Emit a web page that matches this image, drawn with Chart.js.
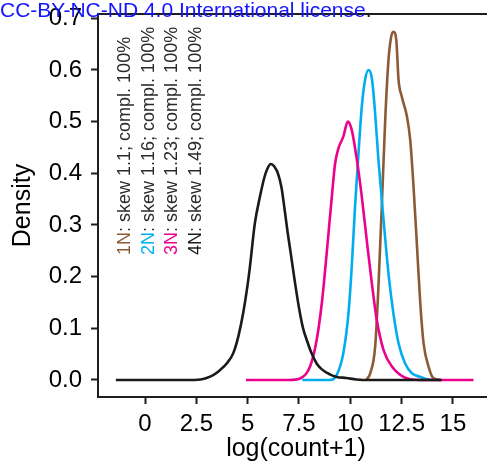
<!DOCTYPE html>
<html>
<head>
<meta charset="utf-8">
<script src="https://cdn.jsdelivr.net/npm/chart.js@4"></script>
<style>
  html, body { margin: 0; padding: 0; background: #ffffff; overflow: hidden; }
  #wrap { position: relative; width: 494px; height: 468px; }
</style>
</head>
<body>
<div id="wrap"><canvas id="chart" width="494" height="468"></canvas></div>
<script>
// Kernel density curves of log(count+1) for four samples
const xs4N = [-1.42, 0, 1, 2, 2.7, 3.0, 3.3, 3.65, 4.0, 4.3, 4.55, 4.78, 5.0, 5.11, 5.35, 5.6, 5.8, 5.95, 6.13, 6.3, 6.49, 6.65, 6.8, 6.95, 7.1, 7.3, 7.5, 7.7, 7.9, 8.1, 8.36, 8.6, 9.0, 9.34, 9.8, 10.3, 11, 12, 13, 14.45];
const ys4N = [0, 0, 0, 0, 0.001, 0.004, 0.009, 0.019, 0.033, 0.052, 0.085, 0.129, 0.185, 0.219, 0.303, 0.355, 0.39, 0.408, 0.418, 0.413, 0.398, 0.372, 0.33, 0.285, 0.245, 0.19, 0.14, 0.10, 0.075, 0.053, 0.032, 0.021, 0.011, 0.006, 0.004, 0.001, 0, 0, 0, 0];

const xs3N = [4.92, 6, 7, 7.55, 8.04, 8.36, 8.61, 8.85, 9.10, 9.26, 9.42, 9.66, 9.88, 10.07, 10.32, 10.56, 10.80, 11.05, 11.29, 11.62, 12.03, 12.59, 13.4, 14.5, 16.0];
const ys3N = [0, 0, 0, 0.003, 0.026, 0.077, 0.148, 0.245, 0.355, 0.419, 0.448, 0.471, 0.50, 0.484, 0.426, 0.355, 0.271, 0.187, 0.116, 0.058, 0.026, 0.006, 0, 0, 0];

const xs2N = [7.66, 8.5, 9.01, 9.34, 9.66, 9.91, 10.07, 10.23, 10.40, 10.56, 10.72, 10.88, 11.05, 11.21, 11.37, 11.62, 11.86, 12.10, 12.35, 12.67, 13.0, 13.41, 13.7, 14.0];
const ys2N = [0, 0, 0, 0.010, 0.052, 0.129, 0.219, 0.335, 0.439, 0.529, 0.581, 0.60, 0.584, 0.516, 0.426, 0.31, 0.206, 0.129, 0.071, 0.032, 0.013, 0.006, 0.002, 0];

const xs1N = [10.8, 10.97, 11.21, 11.37, 11.54, 11.70, 11.86, 11.99, 12.10, 12.24, 12.35, 12.51, 12.76, 12.92, 13.08, 13.25, 13.41, 13.57, 13.81, 14.06, 14.4];
const ys1N = [0.001, 0.013, 0.064, 0.18, 0.342, 0.503, 0.619, 0.664, 0.674, 0.658, 0.581, 0.548, 0.51, 0.464, 0.374, 0.258, 0.148, 0.071, 0.026, 0.003, 0];

const seriesNames = ['1N', '2N', '3N', '4N'];
const seriesColors = ['#8c5b36', '#00aeef', '#ec008c', '#1a1a1a'];
const skewValues = ['1.1', '1.16', '1.23', '1.49'];
const complValues = ['100%', '100%', '100%', '100%'];
// where each rotated caption sits, in data units
const captionX = [-0.75, 0.42, 1.58, 2.75];
const captionY = 0.242;

const xTickValues = [0, 2.5, 5, 7.5, 10, 12.5, 15];
const xTickLabels = ['0', '2.5', '5', '7.5', '10', '12.5', '15'];
const yTickValues = [0, 0.1, 0.2, 0.3, 0.4, 0.5, 0.6, 0.7];
const yTickLabels = ['0.0', '0.1', '0.2', '0.3', '0.4', '0.5', '0.6', '0.7'];

const xLimits = [-2.29, 17.0];
const yLimits = [-0.0329, 0.7083];

const FONT = "'Liberation Sans', Arial, Helvetica, sans-serif";
const AXIS_COLOR = '#1e1e1e';

function toPoints(xs, ys) { return xs.map((x, i) => ({ x: x, y: ys[i] })); }

const curveData = [toPoints(xs1N, ys1N), toPoints(xs2N, ys2N), toPoints(xs3N, ys3N), toPoints(xs4N, ys4N)];

// datasets listed so that 4N ends up painted on top
const datasets = [3, 2, 1, 0].map(i => ({
  label: seriesNames[i],
  data: curveData[i],
  borderColor: seriesColors[i],
  borderWidth: 2.6,
  pointRadius: 0,
  fill: false,
  cubicInterpolationMode: 'monotone',
  borderCapStyle: 'butt',
  borderJoinStyle: 'round'
}));

const decorPlugin = {
  id: 'decor',
  afterDatasetsDraw(chart) {
    const ctx = chart.ctx;
    const xs = chart.scales.x, ys = chart.scales.y;
    ctx.save();
    // rotated captions
    ctx.font = '18px ' + FONT;
    ctx.textAlign = 'left';
    ctx.textBaseline = 'alphabetic';
    for (let i = 0; i < seriesNames.length; i++) {
      const px = xs.getPixelForValue(captionX[i]);
      const py = ys.getPixelForValue(captionY);
      ctx.save();
      ctx.translate(px, py);
      ctx.rotate(-Math.PI / 2);
      const head = seriesNames[i];
      const rest = ': skew ' + skewValues[i] + '; compl. ' + complValues[i];
      ctx.fillStyle = seriesColors[i];
      ctx.fillText(head, 0, 0);
      const w = ctx.measureText(head).width;
      ctx.fillStyle = '#2a2a2a';
      ctx.fillText(rest, w, 0);
      ctx.restore();
    }
    // top frame line across the panel
    const topY = ys.getPixelForValue(yLimits[1]);
    ctx.fillStyle = '#1e1e1e';
    ctx.fillRect(xs.left - 1, topY - 1, chart.width - xs.left + 1, 2);
    ctx.restore();
  },
  afterDraw(chart) {
    const ctx = chart.ctx;
    ctx.save();
    // licence line of the page header
    ctx.font = '21px ' + FONT;
    ctx.textAlign = 'left';
    ctx.textBaseline = 'alphabetic';
    const lic = 'CC-BY-NC-ND 4.0 International license';
    ctx.fillStyle = '#1414ff';
    ctx.fillText(lic, 0, 17);
    const lw = ctx.measureText(lic).width;
    ctx.fillStyle = '#222222';
    ctx.fillText('.', lw, 17);
    ctx.restore();
  }
};

new Chart(document.getElementById('chart'), {
  type: 'line',
  data: { datasets: datasets },
  options: {
    responsive: false,
    animation: false,
    devicePixelRatio: 1,
    layout: { padding: { top: 14, right: 0, left: 0, bottom: 0 } },
    plugins: { legend: { display: false }, tooltip: { enabled: false } },
    scales: {
      x: {
        type: 'linear',
        min: xLimits[0],
        max: xLimits[1],
        afterBuildTicks(scale) { scale.ticks = xTickValues.map(v => ({ value: v })); },
        afterFit(scale) {
          scale.height = 71;
          scale.paddingLeft = 0;
          scale.paddingRight = 0;
        },
        ticks: {
          callback: (v, i) => xTickLabels[i],
          font: { family: FONT, size: 24 },
          color: '#000000',
          padding: 6,
          maxRotation: 0,
          autoSkip: false
        },
        grid: { drawOnChartArea: false, drawTicks: true, tickLength: 7, tickWidth: 2, tickColor: AXIS_COLOR },
        border: { display: true, color: AXIS_COLOR, width: 2 },
        title: {
          display: true,
          text: 'log(count+1)',
          font: { family: FONT, size: 25 },
          color: '#000000',
          padding: { top: 0, bottom: 4 }
        }
      },
      y: {
        type: 'linear',
        min: yLimits[0],
        max: yLimits[1],
        afterBuildTicks(scale) { scale.ticks = yTickValues.map(v => ({ value: v })); },
        afterFit(scale) {
          scale.width = 98;
          scale.paddingTop = 0;
          scale.paddingBottom = 0;
        },
        ticks: {
          callback: (v, i) => yTickLabels[i],
          font: { family: FONT, size: 24 },
          color: '#000000',
          padding: 9,
          autoSkip: false
        },
        grid: { drawOnChartArea: false, drawTicks: true, tickLength: 7, tickWidth: 2, tickColor: AXIS_COLOR },
        border: { display: true, color: AXIS_COLOR, width: 2 },
        title: {
          display: true,
          text: 'Density',
          font: { family: FONT, size: 25 },
          color: '#000000',
          padding: { top: 8, bottom: 0 }
        }
      }
    }
  },
  plugins: [decorPlugin]
});
</script>
</body>
</html>
